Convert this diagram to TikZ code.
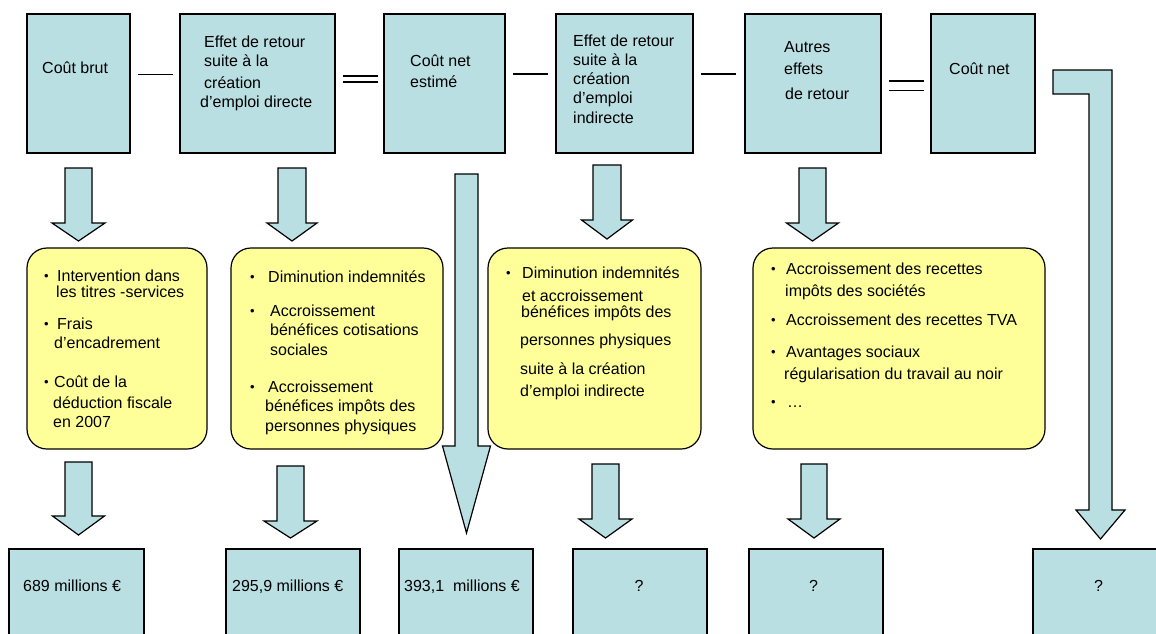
\documentclass[tikz,border=0pt]{standalone}
\usepackage{fontspec}
\setmainfont{Liberation Sans}
\usetikzlibrary{calc,positioning}

\definecolor{boxblue}{RGB}{185,223,227}
\definecolor{boxyellow}{RGB}{255,255,153}

\newcommand{\itm}[1][13pt]{\makebox[#1][l]{\raisebox{1.5pt}{\fontsize{13}{13}\selectfont\textbullet}}}
\newcommand{\ind}[1][11pt]{\hspace*{#1}}
\newcommand{\blockarrow}[6]{%
  \draw[arrowbody] ({#1-#5},#2) -- ({#1+#5},#2) -- ({#1+#5},#3) -- ({#1+#6},#3)
    -- (#1,#4) -- ({#1-#6},#3) -- ({#1-#5},#3) -- cycle;}

\begin{document}
\begin{tikzpicture}[x=1pt,y=-1pt,
    box/.style={draw,fill=boxblue,line width=1.2pt,inner sep=0pt,outer sep=0pt},
    note/.style={draw,fill=boxyellow,line width=1.2pt,rounded corners=20pt,inner sep=0pt,outer sep=0pt},
    txt/.style={font=\fontsize{16}{19}\selectfont,align=left,inner sep=0pt,anchor=north west},
    sign/.style={line width=1.6pt},
    arrowbody/.style={draw,fill=boxblue,line width=1.2pt,line join=miter}]
  \useasboundingbox (0,0) rectangle (1156,633);
  \fill[white] (0,0) rectangle (1156,633);
  \clip (0,0) rectangle (1156,633);

  % top row
  \node[box,minimum width=103pt,minimum height=139pt] (c1) at (78.5,83.5) {};
  \node[box,minimum width=155pt,minimum height=139pt] (c2) at (257.5,83.5) {};
  \node[box,minimum width=121pt,minimum height=139pt] (c3) at (444.5,83.5) {};
  \node[box,minimum width=137pt,minimum height=139pt] (c4) at (624.5,83.5) {};
  \node[box,minimum width=136pt,minimum height=139pt] (c5) at (813,83.5) {};
  \node[box,minimum width=104pt,minimum height=139pt] (c6) at (983,83.5) {};

  \node[txt] (t1) at (42,62) {Coût brut};
  \node[txt] (t2) at (204,36) {Effet de retour\\ suite à la\\[3pt] création\\ \hspace*{-4pt}d’emploi directe};
  \node[txt] (t3) at (410,55) {Coût net\\[2pt] estimé};
  \node[txt] (t4) at (573,35) {Effet de retour\\ suite à la\\ création\\ d’emploi\\[1pt] indirecte};
  \node[txt] (t5) at (784,41) {Autres\\[3pt] effets\\[6pt] \hspace*{1pt}de retour};
  \node[txt] (t6) at (949,63) {Coût net};

  % minus and equals signs
  \draw[sign] ($(c1.east)+(8,-9)$) -- ($(c2.west)+(-7,-9)$);
  \draw[sign] ($(c2.east)+(8,-7.5)$) -- ($(c3.west)+(-6,-7.5)$);
  \draw[sign] ($(c2.east)+(8,-1.5)$) -- ($(c3.west)+(-6,-1.5)$);
  \draw[sign] ($(c3.east)+(8,-9.5)$) -- ($(c4.west)+(-8,-9.5)$);
  \draw[sign] ($(c4.east)+(8,-9.5)$) -- ($(c5.west)+(-9,-9.5)$);
  \draw[sign] ($(c5.east)+(8,-2.5)$) -- ($(c6.west)+(-7,-2.5)$);
  \draw[sign] ($(c5.east)+(8,7)$) -- ($(c6.west)+(-7,7)$);

  % arrows to the notes
  \blockarrow{78.5}{168}{223}{241}{13.5}{26.5}
  \blockarrow{292}{168}{223}{241}{14}{25}
  \blockarrow{607}{165}{220}{239}{14}{25.5}
  \blockarrow{812.5}{168}{223}{241}{13.5}{26}

  % notes
  \node[note,minimum width=180pt,minimum height=201pt] (y1) at (117,348.5) {};
  \node[note,minimum width=212pt,minimum height=201pt] (y2) at (337,348.5) {};
  \node[note,minimum width=213pt,minimum height=201pt] (y3) at (594.5,348.5) {};
  \node[note,minimum width=292pt,minimum height=201pt] (y4) at (899,348.5) {};

  \node[txt] (n1) at (44,270) {\itm Intervention dans\\[-3pt] \ind[12pt]les titres -services\\[13pt]
    \itm Frais\\ \ind[10pt]d’encadrement\\[20pt]
    \itm[10pt]Coût de la\\[2pt] \ind[9pt]déduction fiscale\\ \ind[9pt]en 2007};
  \node[txt] (n2) at (250,271) {\itm[18pt]Diminution indemnités\\[15pt]
    \itm[20pt]Accroissement\\ \ind[20pt]bénéfices cotisations\\[1pt] \ind[20pt]sociales\\[18pt]
    \itm[18pt]Accroissement\\ \ind[15pt]bénéfices impôts des\\[1pt] \ind[15pt]personnes physiques};
  \node[txt] (n3) at (506,267) {\itm[16pt]Diminution indemnités\\[4pt] \ind[16pt]et accroissement\\[-3pt]
    \ind[15pt]bénéfices impôts des\\[9pt] \ind[14pt]personnes physiques\\[10pt]
    \ind[14pt]suite à la création\\[3pt] \ind[14pt]d’emploi indirecte};
  \node[txt] (n4) at (771,263) {\itm[15pt]Accroissement des recettes\\[3pt] \ind[14pt]impôts des sociétés\\[10pt]
    \itm[15pt]Accroissement des recettes TVA\\[13pt]
    \itm[15pt]Avantages sociaux\\[3pt] \ind[13pt]régularisation du travail au noir\\[9pt]
    \itm[16pt]…};

  % long arrows
  \blockarrow{466.5}{174}{446}{533}{11.5}{24}
  \draw[arrowbody] (1053,70) -- (1112,70) -- (1112,510) -- (1125,510) -- (1100.5,539)
    -- (1076,510) -- (1089,510) -- (1089,94) -- (1053,94) -- cycle;

  % arrows to the results
  \blockarrow{78.5}{462}{516}{535}{13.5}{26}
  \blockarrow{290.5}{466}{521}{538}{13.5}{26.5}
  \blockarrow{605.5}{464}{519}{538}{13.5}{26.5}
  \blockarrow{814}{464}{519}{538}{13}{26}

  % results
  \node[box,minimum width=135pt,minimum height=134pt] (b1) at (76.5,616) {};
  \node[box,minimum width=134pt,minimum height=134pt] (b2) at (293,616) {};
  \node[box,minimum width=134pt,minimum height=134pt] (b3) at (466,616) {};
  \node[box,minimum width=134pt,minimum height=134pt] (b4) at (640,616) {};
  \node[box,minimum width=134pt,minimum height=134pt] (b5) at (816,616) {};
  \node[box,minimum width=134pt,minimum height=134pt] (b6) at (1100,616) {};

  \node[txt,anchor=base west] (v1) at (23,591) {689 millions €};
  \node[txt,anchor=base west] (v2) at (232,591) {295,9 millions €};
  \node[txt,anchor=base west] (v3) at (404,591) {393,1~~millions €};
  \node[txt,anchor=base] (v4) at (639,591) {?};
  \node[txt,anchor=base] (v5) at (813.5,591) {?};
  \node[txt,anchor=base] (v6) at (1098.5,591) {?};
\end{tikzpicture}
\end{document}
